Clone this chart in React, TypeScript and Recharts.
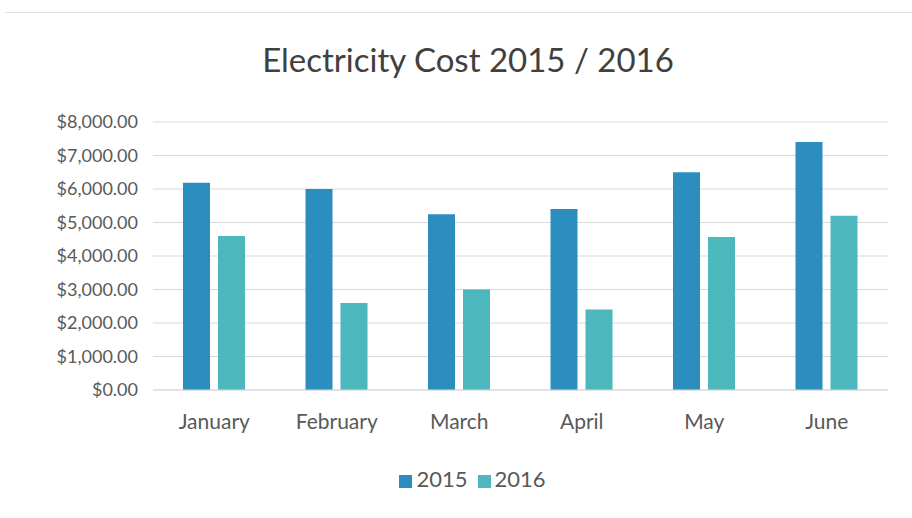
import { BarChart, Bar, XAxis, YAxis, CartesianGrid, Legend } from 'recharts';

const months = ['January', 'February', 'March', 'April', 'May', 'June'];
const cost2015 = [6190, 6000, 5250, 5400, 6500, 7400];
const cost2016 = [4600, 2600, 3000, 2400, 4570, 5200];
const yTicks = [0, 1000, 2000, 3000, 4000, 5000, 6000, 7000, 8000];

const data = months.map((m, i) => ({ month: m, y2015: cost2015[i], y2016: cost2016[i] }));

const FONT = 'Lato, "Open Sans", sans-serif';

// $8,000.00 style labels
const formatMoney = (v: number) =>
  '$' + v.toLocaleString('en-US', { minimumFractionDigits: 2, maximumFractionDigits: 2 });

export default function App() {
  return (
    <div
      style={{
        position: 'absolute',
        left: 0,
        top: 0,
        width: 912,
        height: 518,
        background: '#fff',
        fontFamily: FONT,
      }}
    >
      <div style={{ position: 'absolute', left: 5, right: 0, top: 12, height: 1, background: '#e2e2e2' }} />
      <div
        style={{
          position: 'absolute',
          left: 0,
          width: 936,
          top: 39,
          textAlign: 'center',
          fontSize: 33,
          color: '#404040',
        }}
      >
        Electricity Cost 2015 / 2016
      </div>
      <BarChart
        width={912}
        height={518}
        data={data}
        margin={{ top: 122, right: 24, left: 3, bottom: 20 }}
        barGap={8}
        barSize={27}
      >
        <CartesianGrid vertical={false} stroke="#d9d9d9" />
        <XAxis
          dataKey="month"
          axisLine={{ stroke: '#d9d9d9' }}
          tickLine={false}
          tickSize={0}
          tickMargin={24}
          height={78}
          tick={{ fill: '#595959', fontSize: 21, fontFamily: FONT }}
        />
        <YAxis
          domain={[0, 8000]}
          ticks={yTicks}
          tickFormatter={formatMoney}
          axisLine={false}
          tickLine={false}
          tickSize={0}
          tickMargin={15}
          width={150}
          tick={{ fill: '#595959', fontSize: 18, fontFamily: FONT }}
        />
        <Legend
          verticalAlign="bottom"
          iconType="square"
          iconSize={13}
          height={30}
          wrapperStyle={{ fontSize: 22, fontFamily: FONT, color: '#595959', left: 35, bottom: 23 }}
          formatter={(value) => <span style={{ color: '#595959' }}>{value}</span>}
        />
        <Bar dataKey="y2015" name="2015" fill="#2c8dbf" isAnimationActive={false} />
        <Bar dataKey="y2016" name="2016" fill="#4cb8be" isAnimationActive={false} />
      </BarChart>
    </div>
  );
}
